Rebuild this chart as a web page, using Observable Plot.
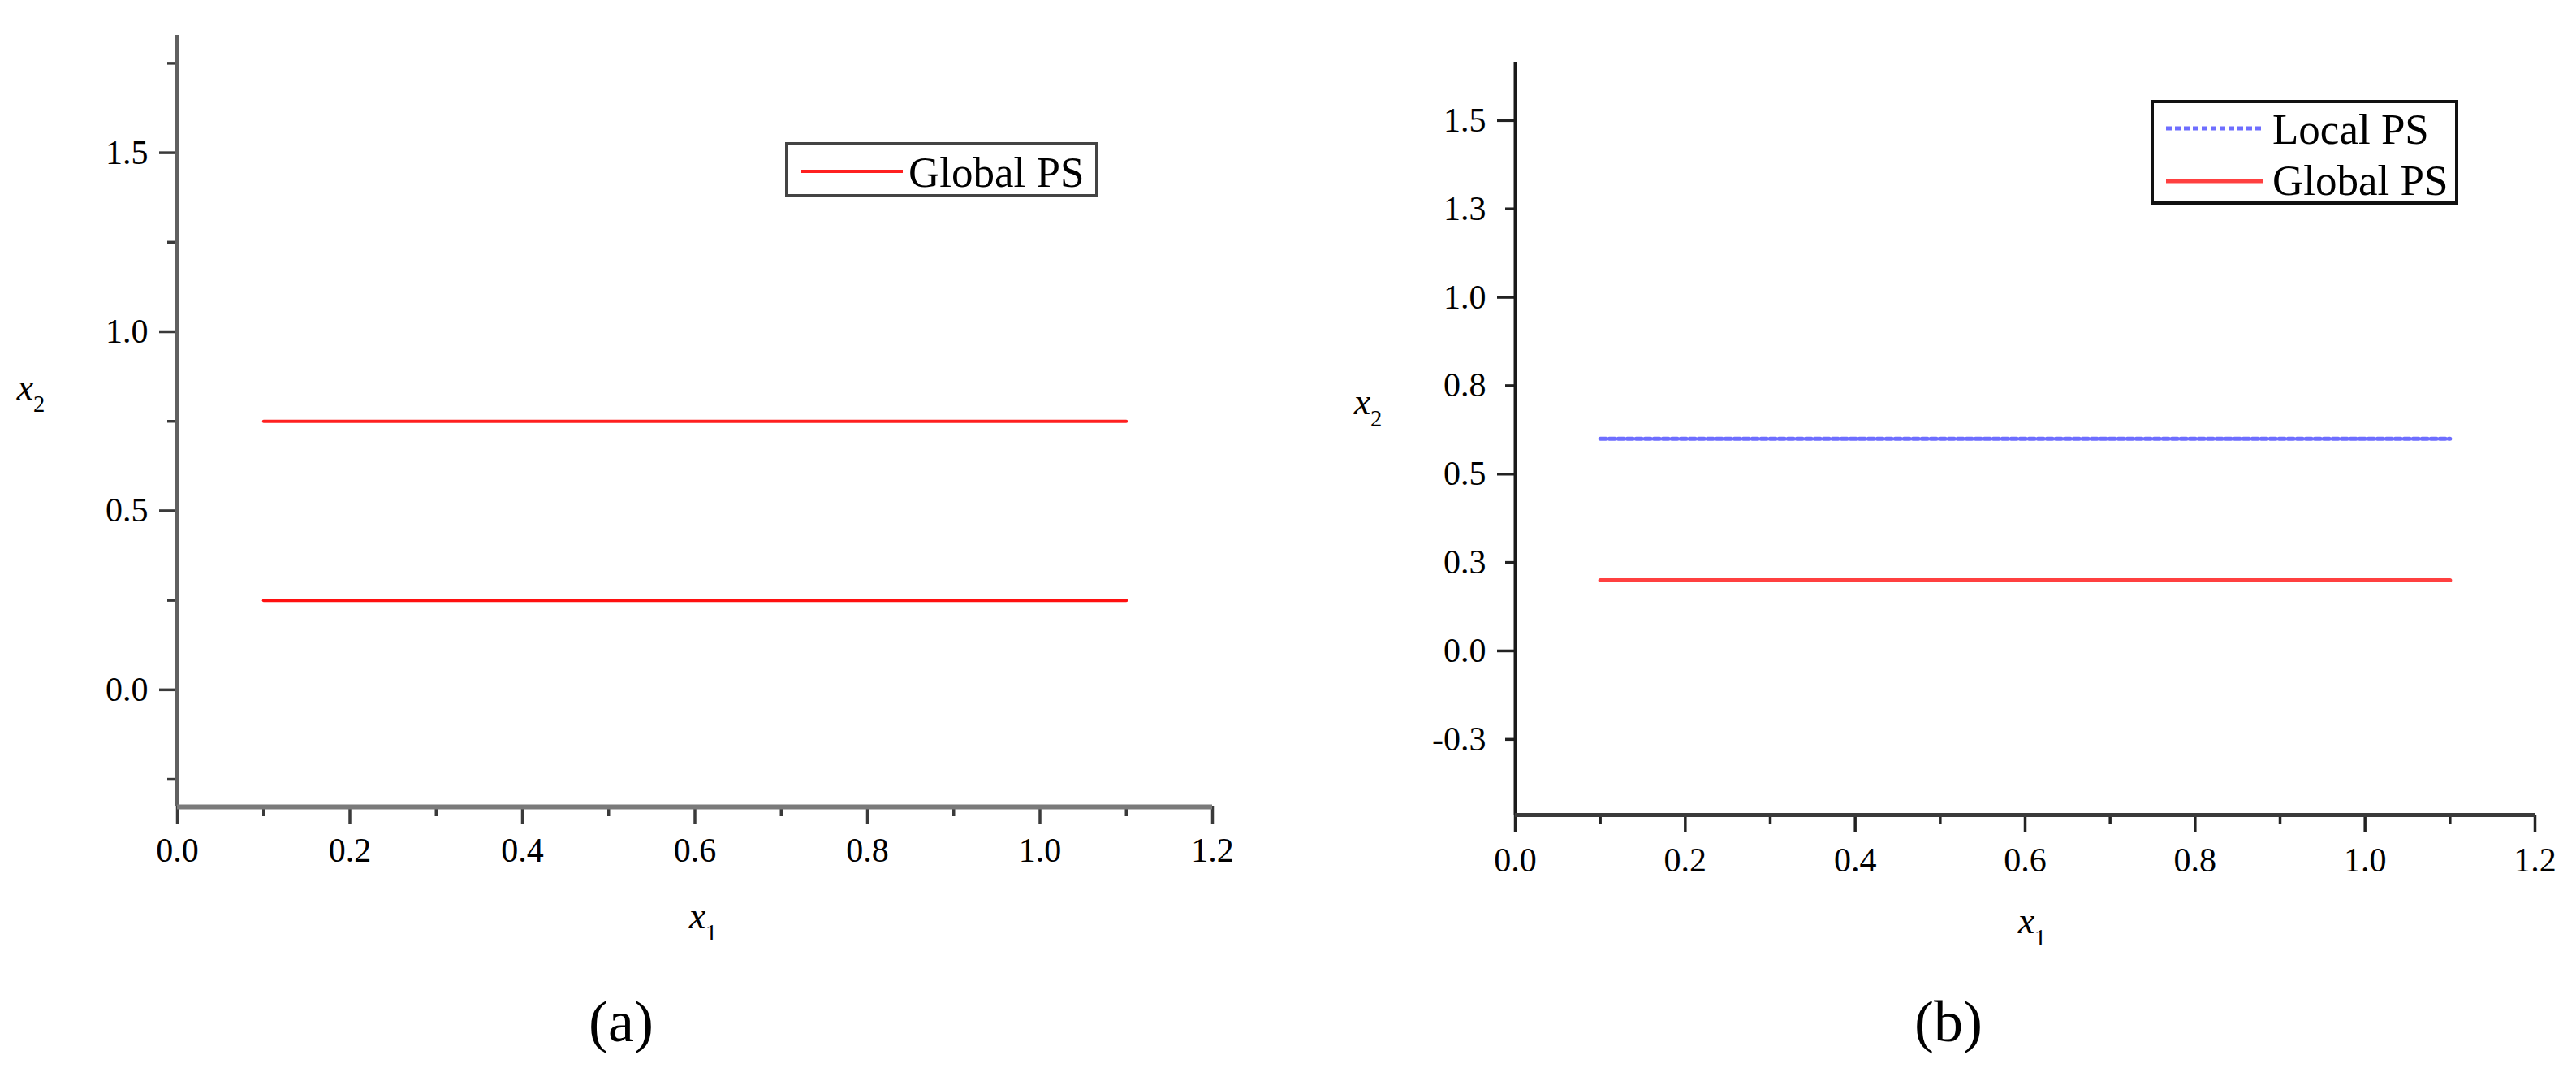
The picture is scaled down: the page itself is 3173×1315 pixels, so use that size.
<!DOCTYPE html>
<html>
<head>
<meta charset="utf-8">
<script src="https://cdn.jsdelivr.net/npm/d3@7"></script>
<script src="https://cdn.jsdelivr.net/npm/@observablehq/plot@0.6"></script>
<style>
  html, body { margin: 0; padding: 0; background: #ffffff; }
  #page { position: relative; width: 3173px; height: 1315px; overflow: hidden; background: #fff;
          font-family: "Liberation Serif", "Times New Roman", serif; }
  .panel { position: absolute; top: 0; }
  .caption { position: absolute; width: 300px; text-align: center; font-size: 72px; line-height: 1;
             font-family: "Liberation Serif", serif; color: #000; }
  .legend { position: absolute; }
</style>
</head>
<body>
<div id="page"></div>
<script>
// ---------------- data ----------------
const x1 = [0.1, 1.1];
const aGlobalUpper = [0.75, 0.75];
const aGlobalLower = [0.25, 0.25];
const bLocal = [0.6, 0.6];
const bGlobal = [0.2, 0.2];

const xDomain = [0, 1.2];
const aYDomain = [-0.327, 1.828];
const bYDomain = [-0.464, 1.665];

const xMajorTicks = [0, 0.2, 0.4, 0.6, 0.8, 1.0, 1.2];
const xMajorLabels = ["0.0", "0.2", "0.4", "0.6", "0.8", "1.0", "1.2"];
const xMinorTicks = [0.1, 0.3, 0.5, 0.7, 0.9, 1.1];

const aYMajorTicks = [0, 0.5, 1.0, 1.5];
const aYMajorLabels = ["0.0", "0.5", "1.0", "1.5"];
const aYMinorTicks = [-0.25, 0.25, 0.75, 1.25, 1.75];

const bYMajorTicks = [0, 0.5, 1.0, 1.5];
const bYMajorLabels = ["0.0", "0.5", "1.0", "1.5"];
const bYMinorTicks = [-0.25, 0.25, 0.75, 1.25];
const bYMinorLabels = ["-0.3", "0.3", "0.8", "1.3"];

const aSeries = ["Global PS"];
const bSeries = ["Local PS", "Global PS"];
const captions = ["(a)", "(b)"];

// ---------------- helpers ----------------
const page = document.getElementById("page");
const fmt = (ticks, labels) => d => labels[ticks.indexOf(d)];
const toRows = (xs, ys) => xs.map((x, i) => ({x, y: ys[i]}));

function addAxisLabel(svg, x, y, sub, size) {
  const t = d3.select(svg).append("text")
    .attr("x", x).attr("y", y)
    .attr("text-anchor", "middle")
    .attr("font-family", "Liberation Serif, serif")
    .attr("font-size", size)
    .attr("fill", "#000");
  t.append("tspan").attr("font-style", "italic").text("x");
  t.append("tspan").attr("font-size", size * 0.62).attr("dy", size * 0.32).text(sub);
}

function panel(cfg) {
  const axisCommon = {fontSize: 42, fill: "#000", stroke: cfg.axisColor, strokeWidth: 3.5, label: null};
  const plot = Plot.plot({
    width: cfg.width, height: cfg.height,
    marginLeft: cfg.ml, marginRight: cfg.mr, marginTop: cfg.mt, marginBottom: cfg.mb,
    x: {domain: xDomain, label: null},
    y: {domain: cfg.yDomain, label: null},
    style: {fontFamily: "Liberation Serif, serif", fontSize: "42px", background: "transparent", color: "#000", overflow: "visible"},
    marks: [
      Plot.axisX(xMajorTicks, {...axisCommon, tickSize: 22, tickPadding: cfg.xPad, tickFormat: fmt(xMajorTicks, xMajorLabels)}),
      Plot.axisX(xMinorTicks, {...axisCommon, tickSize: 12, tickFormat: () => ""}),
      Plot.axisY(cfg.yMajor, {...axisCommon, tickSize: 22, tickPadding: 14, tickFormat: fmt(cfg.yMajor, cfg.yMajorLabels)}),
      Plot.axisY(cfg.yMinor, {...axisCommon, tickSize: 12, tickPadding: 24,
        tickFormat: cfg.yMinorLabels ? fmt(cfg.yMinor, cfg.yMinorLabels) : () => ""}),
      Plot.ruleX([xDomain[0]], {stroke: cfg.yAxisColor, strokeWidth: cfg.axisWidth}),
      Plot.ruleY([cfg.yDomain[0]], {stroke: cfg.xAxisColor, strokeWidth: cfg.axisWidth + 1}),
      ...cfg.lines
    ]
  });
  plot.classList.add("panel");
  plot.style.left = cfg.left + "px";
  page.appendChild(plot);
  const fx = (cfg.ml + (cfg.width - cfg.mr)) / 2;
  const fy = (cfg.mt + (cfg.height - cfg.mb)) / 2;
  addAxisLabel(plot, cfg.yLabelX, cfg.yLabelY, "2", 46);
  addAxisLabel(plot, cfg.xLabelX, cfg.xLabelY, "1", 46);
  return plot;
}

// ---------------- panel (a) ----------------
panel({
  left: 0, width: 1560, height: 1200, ml: 218, mr: 67, mt: 43, mb: 207,
  yDomain: aYDomain, yMajor: aYMajorTicks, yMajorLabels: aYMajorLabels, yMinor: aYMinorTicks,
  axisColor: "#3a3a3a", yAxisColor: "#606060", xAxisColor: "#7a7a7a", axisWidth: 5, xPad: 16,
  yLabelX: 38, yLabelY: 492, xLabelX: 866, xLabelY: 1143,
  lines: [
    Plot.line(toRows(x1, aGlobalUpper), {x: "x", y: "y", stroke: "#ff2020", strokeWidth: 4}),
    Plot.line(toRows(x1, aGlobalLower), {x: "x", y: "y", stroke: "#ff1010", strokeWidth: 4})
  ]
});

// ---------------- panel (b) ----------------
panel({
  left: 1600, width: 1573, height: 1200, ml: 266, mr: 51, mt: 76, mb: 197,
  yDomain: bYDomain, yMajor: bYMajorTicks, yMajorLabels: bYMajorLabels, yMinor: bYMinorTicks, yMinorLabels: bYMinorLabels,
  axisColor: "#222", yAxisColor: "#1a1a1a", xAxisColor: "#3a3a3a", axisWidth: 4, xPad: 18,
  yLabelX: 85, yLabelY: 510, xLabelX: 903, xLabelY: 1149,
  lines: [
    Plot.line(toRows(x1, bLocal), {x: "x", y: "y", stroke: "#6e6eff", strokeWidth: 5, strokeDasharray: "7 4"}),
    Plot.line(toRows(x1, bGlobal), {x: "x", y: "y", stroke: "#ff4040", strokeWidth: 5})
  ]
});

// ---------------- legends ----------------
function legend(left, top, w, h, entries, border) {
  const svg = d3.select(page).append("svg")
    .attr("class", "legend").attr("width", w).attr("height", h)
    .style("left", left + "px").style("top", top + "px");
  svg.append("rect").attr("x", 2).attr("y", 2).attr("width", w - 4).attr("height", h - 4)
    .attr("fill", "#fff").attr("stroke", border).attr("stroke-width", 4);
  entries.forEach(e => {
    svg.append("line").attr("x1", e.x1).attr("x2", e.x2).attr("y1", e.ly).attr("y2", e.ly)
      .attr("stroke", e.color).attr("stroke-width", e.width).attr("stroke-dasharray", e.dash || null);
    svg.append("text").attr("x", e.tx).attr("y", e.ty)
      .attr("font-family", "Liberation Serif, serif").attr("font-size", 53).attr("fill", "#000")
      .text(e.label);
  });
}
legend(967, 175, 386, 68, [
  {label: aSeries[0], x1: 20, x2: 145, ly: 36, color: "#ff2020", width: 4, tx: 152, ty: 55}
], "#444");
legend(2649, 123, 379, 129, [
  {label: bSeries[0], x1: 19, x2: 139, ly: 35, color: "#6e6eff", width: 5, dash: "7 4", tx: 150, ty: 54},
  {label: bSeries[1], x1: 19, x2: 139, ly: 100, color: "#ff4040", width: 5, tx: 150, ty: 117}
], "#111");

// ---------------- captions ----------------
[[captions[0], 765], [captions[1], 2400]].forEach(([t, cx]) => {
  const d = document.createElement("div");
  d.className = "caption";
  d.textContent = t;
  d.style.left = (cx - 150) + "px";
  d.style.top = "1222px";
  page.appendChild(d);
});
</script>
</body>
</html>
